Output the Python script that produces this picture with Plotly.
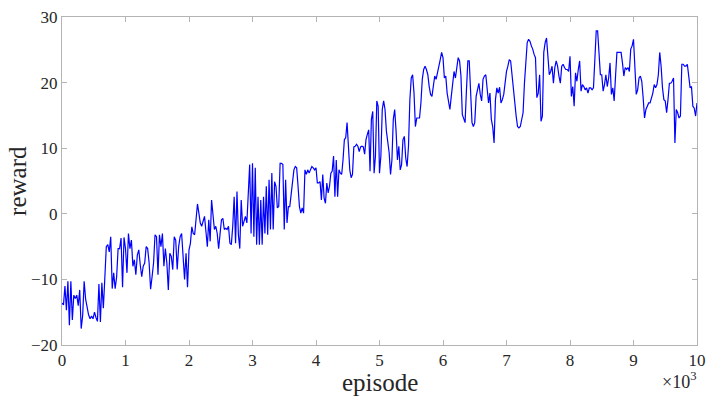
import plotly.graph_objects as go

# reward readings, one list per thousand episodes (points evenly spaced within each block)
reward_start = [-13.6]
reward_0k = [-13.9, -11, -14.7, -10.3, -17, -10.3, -16.2, -12.4, -12.9, -12.4, -14, -11.6, -17.5, -15.5, -10.3,
             -13, -14.6, -15.4, -16, -15.6, -16, -15, -15.8, -16.4, -10.7, -16.5, -10.5, -14.4, -9.8, -5, -4.7,
             -5.8, -3.5, -11.4, -9, -11.4, -9.6, -5.3, -5.3, -3.7, -11.2, -3.6, -5.3]
reward_1k = [-9, -3, -5.3, -4, -8, -7, -9.3, -6.3, -5.5, -7.8, -9.6, -8, -7.5, -5, -5.3, -7.5, -11.5, -9.6, -7.5,
             -3.2, -3.5, -9.3, -3.2, -5, -3, -8, -5.3, -7.5, -11.6, -6, -6.5, -8.5, -3.5, -4, -8.5, -5, -3.5, -3,
             -6, -10, -6, -11.2, -5.5]
reward_2k = [-4.5, -2, -3, -3.2, -0.4, 1.5, 0.1, -1.4, -1.9, -0.9, -0.4, -2.7, -5, -0.9, -4.2, 2.1, -0.9, -2.4,
             -1.9, -3, -5.3, -3, -0.9, -0.7, -2.4, -2.2, -2.4, -1.9, -4.5, -4.7, -1.9, 2.6, -4.5, 3.4, -3.2, -5.3,
             2.1, -1.9, -0.9, -0.4, -1.4, 2.6, 7.5, -3, 7.7]
reward_3k = [-3.5, 7, -4.7, 2.6, -4.7, 2.1, -4.7, 2.6, -3, 4.2, -3.2, 5.2, -2.4, 6.2, -2.4, 4.9, 4.2, 0.9, 1.1,
             7.7, 7.7, 7.5, -2.4, 5.2, -1.4, 1.1, 1.1, 3.2, 4.9, 6.7, 7.2, 7, 4.2, 1.1, 0.1, 0.9, 0.1, 6.7, 6, 6.7,
             6.2, 6.7, 7.2, 7, 6.7, 7]
reward_4k = [4.7, 4.7, 4.9, 2.1, 6, 2.4, 1.6, 4.7, 3.2, 4.2, 6.2, 6.5, 8.8, 2.6, 8.2, 2.6, 6.7, 6.2, 6, 8.2, 11.3,
             11.6, 13.9, 10.3, 6.7, 5.5, 6, 10.2, 10.3, 10.6, 10.3, 9.5, 10.2, 10.3, 10.2, 9.1, 11.3, 12.1, 12.8,
             6.5, 14.4, 15.6, 6.2, 8.8, 17.2, 16.4, 6.2]
reward_5k = [8.8, 15.9, 17.2, 15.9, 12.6, 11.3, 9.3, 6, 8.2, 14.4, 15.9, 12.6, 8.2, 10.3, 6.7, 7.5, 11.3, 11.8,
             8.5, 7.2, 10.3, 17.4, 20.7, 21.2, 18.4, 13.3, 14.6, 14.6, 14.6, 16.9, 20.5, 22, 22.5, 22, 21.2, 19.4,
             18.2, 17.9, 19.7, 21, 20.5, 21.7, 22.8, 23.5, 24.6, 23.8]
reward_6k = [20.7, 21, 18.4, 16.9, 15.9, 17.9, 19.9, 21.7, 20.7, 22, 23.8, 23.3, 21, 15.1, 14.6, 13.9, 18.9, 23.3,
             23.3, 19.4, 13.9, 13.3, 13.9, 17.9, 18.9, 19.9, 18.2, 17.2, 20.5, 21, 21.2, 19.4, 16.9, 18.4, 14.4,
             13.3, 10.8, 17.4, 19.2, 18.4, 19.3, 16.9, 17.4, 18.2, 20.5, 21.7]
reward_7k = [22.5, 23.5, 23.3, 21, 18.9, 16.9, 14.9, 13.3, 13.1, 13.3, 14.4, 15.4, 19.9, 22.5, 26.1, 26.6, 26.3,
             25.6, 25.1, 24.3, 23.8, 17.7, 18.4, 21.2, 14.1, 14.9, 24.6, 26.1, 26.8, 24, 21.2, 21.7, 22.5, 19.9,
             22.3, 23.3, 22.5, 21, 19.9, 22.5, 22.8, 22.3, 22, 22, 21.7, 24]
reward_8k = [17.9, 19.4, 16.4, 21.5, 20.2, 22, 23.3, 18.7, 19.7, 19.4, 18.9, 19.2, 18.4, 19.2, 19.2, 18.9, 19.2,
             23.5, 27.9, 27.9, 25.1, 21.2, 21.2, 18.7, 19.7, 21.2, 19.4, 20.7, 23, 18.2, 19.2, 17.2, 21, 24.6, 24.6,
             24.6, 24.6, 23, 21, 22.3, 22, 22.3, 21.7, 25.1, 25.6, 26.6]
reward_9k = [22.5, 18.2, 18.9, 20.7, 21, 20.2, 17.7, 14.6, 15.9, 16.4, 16.9, 16.9, 17.7, 18.4, 19.7, 19.2, 19.7,
             21.2, 24.6, 22.5, 19.2, 17.4, 17.2, 15.4, 17.4, 19.9, 19.9, 20.2, 20.7, 10.8, 15.9, 15.4, 14.6, 14.9,
             22.8, 22.8, 22.5, 22.5, 22.8, 20.5, 19.2, 19.4, 16.4, 16.1, 14.9, 16.9]

blocks = [reward_0k, reward_1k, reward_2k, reward_3k, reward_4k,
          reward_5k, reward_6k, reward_7k, reward_8k, reward_9k]
block_size = 1000

x_tick_vals = [0, 1000, 2000, 3000, 4000, 5000, 6000, 7000, 8000, 9000, 10000]
x_tick_text = ["0", "1", "2", "3", "4", "5", "6", "7", "8", "9", "10"]
y_tick_vals = [-20, -10, 0, 10, 20, 30]
y_tick_text = ["\u221220", "\u221210", "0", "10", "20", "30"]

episodes = [0]
rewards = list(reward_start)
for k, blk in enumerate(blocks):
    n = len(blk)
    for i, v in enumerate(blk):
        episodes.append(k * block_size + (i + 1) * block_size / n)
        rewards.append(v)

FONT = "Liberation Serif"
AX = "#b4b4b4"
TXT = "#262626"

fig = go.Figure()
fig.add_trace(go.Scatter(x=episodes, y=rewards, mode="lines",
                         line=dict(color="#0000ff", width=1.2), showlegend=False))

fig.update_layout(
    width=722, height=405,
    margin=dict(l=62, r=25, t=17, b=60),
    paper_bgcolor="white", plot_bgcolor="white",
    font=dict(family=FONT, color=TXT),
)
fig.update_xaxes(
    range=[0, 10000], tickvals=x_tick_vals, ticktext=x_tick_text,
    showgrid=False, zeroline=False, showline=True, linecolor=AX, linewidth=1,
    mirror="ticks", ticks="inside", ticklen=5, tickcolor=AX, automargin=False,
    tickfont=dict(family=FONT, size=17, color=TXT),
)
fig.update_yaxes(
    range=[-20, 30], tickvals=y_tick_vals, ticktext=y_tick_text,
    showgrid=False, zeroline=False, showline=True, linecolor=AX, linewidth=1,
    mirror="ticks", ticks="inside", ticklen=5, tickcolor=AX, automargin=False,
    tickfont=dict(family=FONT, size=17, color=TXT),
)
fig.add_annotation(text="episode", xref="paper", yref="paper",
                   x=0.5, y=-0.113, xanchor="center", yanchor="middle", showarrow=False,
                   font=dict(family=FONT, size=25, color=TXT))
fig.add_annotation(text="reward", xref="paper", yref="paper", textangle=-90,
                   x=-0.071, y=0.5, xanchor="center", yanchor="middle", showarrow=False,
                   font=dict(family=FONT, size=25, color=TXT))
fig.add_annotation(text="\u00d710<sup>3</sup>", xref="paper", yref="paper",
                   x=1.002, y=-0.108, xanchor="right", yanchor="middle", showarrow=False,
                   font=dict(family=FONT, size=18, color=TXT))

fig.write_html("out.html", config={"displayModeBar": False},
               post_script="document.body.style.margin='0px';document.body.style.overflow='hidden';")
